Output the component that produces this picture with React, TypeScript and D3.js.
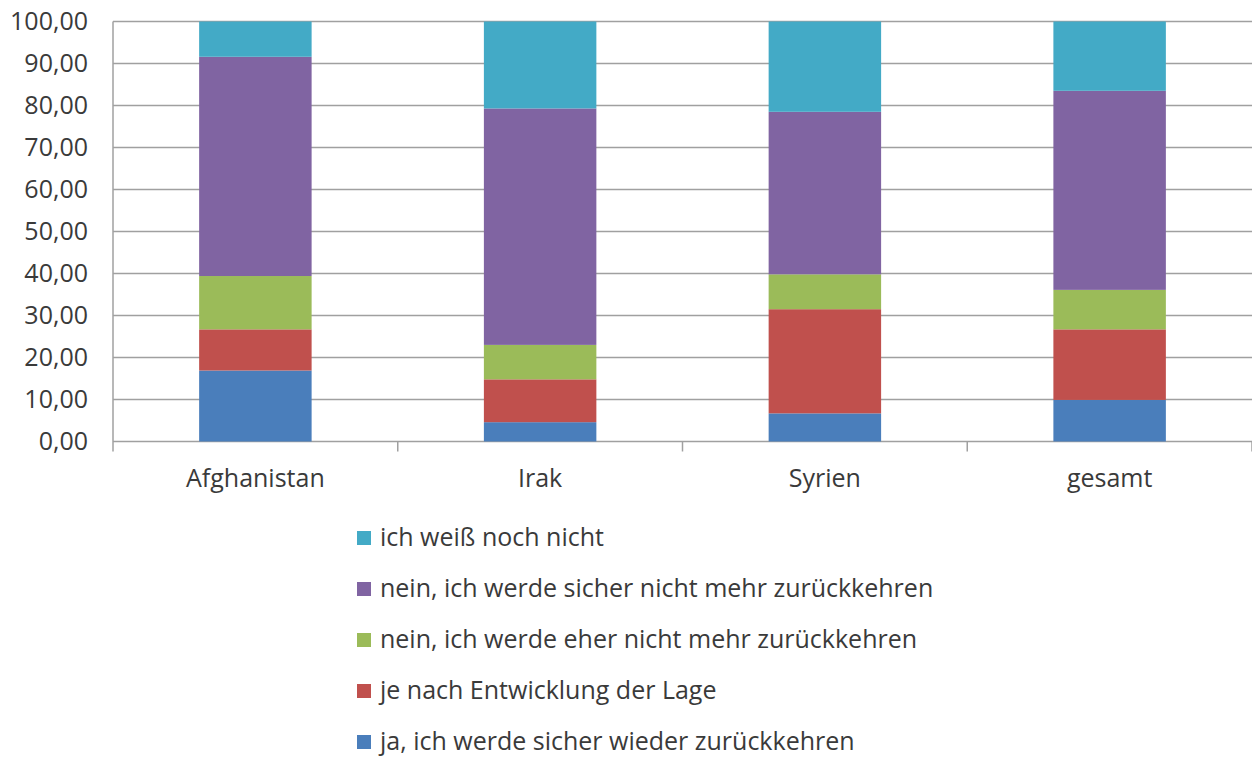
import React, { useMemo } from 'react';
import * as d3 from 'd3';

// ── Data ─────────────────────────────────────────────────────────────────────
const categories = ['Afghanistan', 'Irak', 'Syrien', 'gesamt'];

// stacked bottom → top
const seriesNames = [
  'ja, ich werde sicher wieder zurückkehren',
  'je nach Entwicklung der Lage',
  'nein, ich werde eher nicht mehr zurückkehren',
  'nein, ich werde sicher nicht mehr zurückkehren',
  'ich weiß noch nicht',
];
const jaSicher = [16.9, 4.6, 6.7, 9.9];
const jeNachLage = [9.8, 10.2, 24.8, 16.8];
const eherNicht = [12.7, 8.2, 8.3, 9.4];
const sicherNicht = [52.2, 56.3, 38.7, 47.4];
const weissNicht = [8.4, 20.7, 21.5, 16.5];
const seriesValues = [jaSicher, jeNachLage, eherNicht, sicherNicht, weissNicht];
const seriesColors = ['#4a7ebb', '#c0504d', '#9bbb59', '#8064a2', '#43aac6'];

const yTicks = [0, 10, 20, 30, 40, 50, 60, 70, 80, 90, 100];

// ── Layout ───────────────────────────────────────────────────────────────────
const W = 1252;
const H = 758;
const PLOT = { left: 113, right: 1252, top: 21.5, bottom: 441.5 };
const FONT = '"Open Sans", "Noto Sans", sans-serif';
const FS = 25;
const TEXT = '#3a3a3a';
const GRID = '#a0a0a0';

export default function App() {
  const rows = useMemo(
    () =>
      categories.map((c, i) => {
        const r: Record<string, any> = { category: c };
        seriesNames.forEach((s, j) => (r[s] = seriesValues[j][i]));
        return r;
      }),
    [],
  );

  const stacked = d3.stack<any>().keys(seriesNames)(rows);

  const x = d3
    .scaleBand()
    .domain(categories)
    .range([PLOT.left, PLOT.right])
    .paddingInner(0.605)
    .paddingOuter(0.3025);

  const xEdges = d3
    .scaleBand()
    .domain(categories)
    .range([PLOT.left, PLOT.right])
    .padding(0);

  const y = d3.scaleLinear().domain([0, 100]).range([PLOT.bottom, PLOT.top]);
  const fmt = (v: number) => d3.format('.2f')(v).replace('.', ',');

  const legendOrder = seriesNames.map((_, i) => i).reverse();

  return (
    <svg
      width={W}
      height={H}
      style={{ position: 'absolute', left: 0, top: 0, background: '#fff', fontFamily: FONT }}
    >
      {/* Grid lines */}
      {yTicks.map((t) => (
        <line
          key={t}
          x1={PLOT.left}
          x2={PLOT.right}
          y1={y(t)}
          y2={y(t)}
          stroke={GRID}
          strokeWidth={1.5}
        />
      ))}

      {/* Y axis line */}
      <line x1={PLOT.left} x2={PLOT.left} y1={PLOT.top} y2={PLOT.bottom + 10} stroke={GRID} strokeWidth={1.5} />

      {/* Category tick marks */}
      {categories.map((c) => (
        <line
          key={c}
          x1={(xEdges(c) ?? 0) + xEdges.bandwidth()}
          x2={(xEdges(c) ?? 0) + xEdges.bandwidth()}
          y1={PLOT.bottom}
          y2={PLOT.bottom + 10}
          stroke={GRID}
          strokeWidth={1.5}
        />
      ))}

      {/* Bars */}
      {stacked.map((layer, j) => (
        <g key={layer.key} fill={seriesColors[j]}>
          {layer.map((d, i) => (
            <rect
              key={categories[i]}
              x={x(categories[i])}
              width={x.bandwidth()}
              y={y(d[1])}
              height={y(d[0]) - y(d[1])}
            />
          ))}
        </g>
      ))}

      {/* Y labels */}
      {yTicks.map((t) => (
        <text
          key={t}
          x={88}
          y={y(t)}
          dy="0.35em"
          textAnchor="end"
          fontSize={FS}
          fill={TEXT}
        >
          {fmt(t)}
        </text>
      ))}

      {/* X labels */}
      {categories.map((c) => (
        <text
          key={c}
          x={(x(c) ?? 0) + x.bandwidth() / 2}
          y={478}
          dy="0.35em"
          textAnchor="middle"
          fontSize={FS}
          fill={TEXT}
        >
          {c}
        </text>
      ))}

      {/* Legend */}
      {legendOrder.map((j, k) => {
        const cy = 537 + k * 51;
        return (
          <g key={seriesNames[j]}>
            <rect x={357} y={cy - 6} width={14} height={14} fill={seriesColors[j]} />
            <text x={380} y={cy} dy="0.35em" fontSize={FS} fill={TEXT}>
              {seriesNames[j]}
            </text>
          </g>
        );
      })}
    </svg>
  );
}
